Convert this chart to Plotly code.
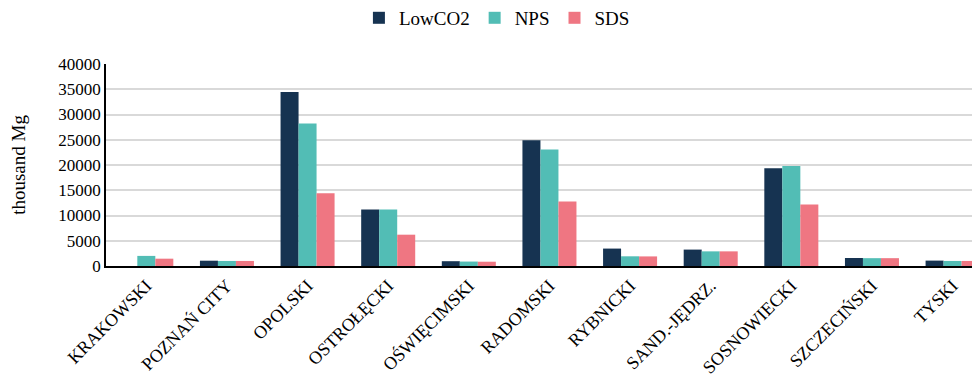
import plotly.graph_objects as go

categories = ["KRAKOWSKI", "POZNAŃ CITY", "OPOLSKI", "OSTROŁĘCKI", "OŚWIĘCIMSKI",
              "RADOMSKI", "RYBNICKI", "SAND.-JĘDRZ.", "SOSNOWIECKI", "SZCZECIŃSKI", "TYSKI"]
lowco2 = [0, 1050, 34450, 11200, 950, 24900, 3450, 3250, 19350, 1580, 1070]
nps = [2000, 1000, 28200, 11200, 880, 23050, 1920, 2900, 19800, 1550, 1000]
sds = [1450, 1000, 14400, 6200, 850, 12750, 1900, 2900, 12200, 1550, 1000]

colors = {"LowCO2": "#163351", "NPS": "#52BDB5", "SDS": "#EF7682"}
FF = "Liberation Serif"

fig = go.Figure()
for name, vals in [("LowCO2", lowco2), ("NPS", nps), ("SDS", sds)]:
    fig.add_trace(go.Bar(x=categories, y=vals, name=name,
                         marker=dict(color=colors[name], line=dict(width=0))))

fig.update_layout(
    width=972, height=375,
    margin=dict(l=98, r=0, t=56, b=117, autoexpand=False),
    barmode="group", bargap=0.33, bargroupgap=0,
    plot_bgcolor="white", paper_bgcolor="white",
    font=dict(family=FF, size=17, color="black"),
    legend=dict(orientation="h", xref="container", x=0.503, xanchor="center",
                yref="paper", y=1.228, yanchor="middle",
                font=dict(family=FF, size=19), itemwidth=30, traceorder="normal"),
    xaxis=dict(range=[-0.5, 10.34], tickangle=-45, showline=True, automargin=False,
               linecolor="black", linewidth=2, ticks="", showgrid=False,
               tickfont=dict(family=FF, size=18)),
    yaxis=dict(range=[0, 40000], dtick=5000, showline=True, linecolor="black",
               linewidth=1.5, gridcolor="#d9d9d9", gridwidth=1.5, automargin=False,
               tickformat="d", zeroline=False, tickfont=dict(family=FF, size=17),
               title=dict(text="thousand Mg", font=dict(family=FF, size=19), standoff=30)),
)

fig.write_html("out.html")
